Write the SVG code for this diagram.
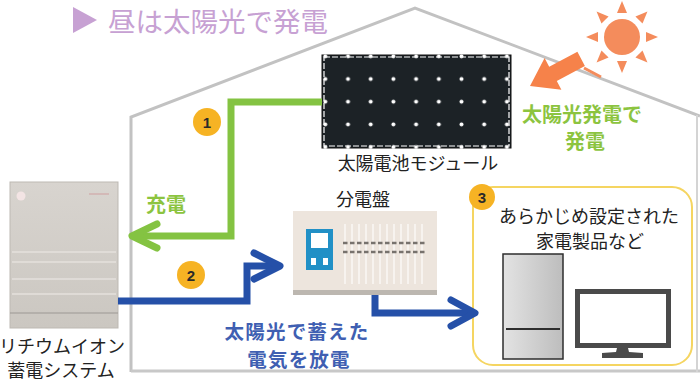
<svg xmlns="http://www.w3.org/2000/svg" width="700" height="382" viewBox="0 0 700 382">
  <defs>
    <style>
      text { font-family: "Noto Sans CJK JP", "Noto Sans", sans-serif; }
      .lbl { font-size: 18px; fill: #222; text-anchor: middle; }
      .green { font-size: 20px; font-weight: bold; fill: #8cc43f; text-anchor: middle; }
      .blue { font-size: 19.5px; letter-spacing: 1.2px; font-weight: bold; fill: #3f5fb2; text-anchor: middle; }
      .badge circle { fill: #f6b324; }
      .badge text { font-size: 15px; font-weight: bold; fill: #2a2a2a; text-anchor: middle; font-family: "Liberation Sans", sans-serif; }
      .wire { fill: none; stroke-width: 7; stroke-linejoin: miter; }
      .head { fill: none; stroke-width: 7; stroke-linecap: round; stroke-linejoin: round; }
      .dot { fill: #ffffff; }
    </style>
    <linearGradient id="batt" x1="0" y1="0" x2="0" y2="1">
      <stop offset="0" stop-color="#d8d4cf"/>
      <stop offset="1" stop-color="#cbc7c1"/>
    </linearGradient>
    <linearGradient id="fridge" x1="0" y1="0" x2="1" y2="0">
      <stop offset="0" stop-color="#e3e3e3"/>
      <stop offset="1" stop-color="#bdbdbd"/>
    </linearGradient>
    <!-- cell corner points of the module grid -->
    <pattern id="cells" x="336.65" y="67.65" width="22.7" height="22.7" patternUnits="userSpaceOnUse">
      <circle cx="11.35" cy="11.35" r="2" class="dot"/>
    </pattern>
  </defs>

  <rect width="700" height="382" fill="#ffffff"/>

  <!-- house outline -->
  <polyline points="131,372 131,117 415,8 700,116" fill="none" stroke="#c2c2c2" stroke-width="3"/>
  <line x1="131" y1="371" x2="700" y2="371" stroke="#c8c8c8" stroke-width="3"/>
  <line x1="697" y1="115" x2="697" y2="372" stroke="#d4d4d4" stroke-width="2"/>

  <!-- heading -->
  <g id="title">
    <polygon points="73,7 73,33 97,20" fill="#c7a1d3"/>
    <text x="108" y="32" font-size="27.5" fill="#c7a1d3">昼は太陽光で発電</text>
  </g>

  <!-- sun and light arrow -->
  <g id="sun" fill="#f48c5c">
    <circle cx="622" cy="37" r="18"/>
    <g transform="translate(622,37)">
      <polygon points="-5,-24 5,-24 0,-36"/>
      <polygon points="-5,-24 5,-24 0,-36" transform="rotate(45)"/>
      <polygon points="-5,-24 5,-24 0,-36" transform="rotate(90)"/>
      <polygon points="-5,-24 5,-24 0,-36" transform="rotate(135)"/>
      <polygon points="-5,-24 5,-24 0,-36" transform="rotate(180)"/>
      <polygon points="-5,-24 5,-24 0,-36" transform="rotate(225)"/>
      <polygon points="-5,-24 5,-24 0,-36" transform="rotate(270)"/>
      <polygon points="-5,-24 5,-24 0,-36" transform="rotate(315)"/>
    </g>
  </g>
  <g id="sunlight">
    <polygon points="530,86 544.6,57.9 549.2,66.7 577.4,51.7 584.9,65.9 556.8,80.9 561.4,89.7" fill="#f6824a"/>
    <line x1="584" y1="68" x2="601" y2="77" stroke="#f48c5c" stroke-width="3"/>
  </g>
  <text class="green" x="582" y="122">太陽光発電で</text>
  <text class="green" x="585" y="149">発電</text>

  <!-- solar module -->
  <g id="solar-module">
    <rect x="322" y="55" width="189" height="93" fill="#1c2226" stroke="#111" stroke-width="1"/>
    <rect x="324" y="57" width="185" height="89" fill="none" stroke="#ffffff" stroke-width="1.2" stroke-dasharray="6 2"/>
    <rect x="322" y="54" width="189" height="95" fill="url(#cells)"/>
    <text class="lbl" x="418" y="170">太陽電池モジュール</text>
  </g>

  <!-- lithium-ion storage battery -->
  <g id="battery">
    <rect x="10" y="182" width="108" height="146" fill="url(#batt)" stroke="#bdb9b3" stroke-width="1"/>
    <g stroke="#e4e1dd" stroke-width="1.5">
      <line x1="12" y1="252" x2="116" y2="252"/>
      <line x1="12" y1="262" x2="116" y2="262"/>
      <line x1="12" y1="279" x2="116" y2="279"/>
      <line x1="12" y1="294" x2="116" y2="294"/>
    </g>
    <line x1="10" y1="313" x2="118" y2="313" stroke="#9c9893" stroke-width="1.2"/>
    <circle cx="21" cy="196" r="4.5" fill="#f3e4e4"/>
    <rect x="89" y="193" width="20" height="2" fill="#d3b9b7"/>
    <text class="lbl" font-size="16.5" x="62" y="353">リチウムイオン</text>
    <text class="lbl" font-size="16.5" x="61" y="377">蓄電システム</text>
  </g>

  <!-- distribution board -->
  <g id="distribution-board">
    <text class="lbl" x="363" y="206">分電盤</text>
    <rect x="293" y="211" width="144" height="84" fill="#ede5dd"/>
    <rect x="293" y="290" width="144" height="5" fill="#bcb7b0"/>
    <g stroke="#f7f3ef" stroke-width="2">
      <line x1="345" y1="224" x2="345" y2="284"/>
      <line x1="352" y1="224" x2="352" y2="284"/>
      <line x1="359" y1="224" x2="359" y2="284"/>
      <line x1="366" y1="224" x2="366" y2="284"/>
      <line x1="373" y1="224" x2="373" y2="284"/>
      <line x1="380" y1="224" x2="380" y2="284"/>
      <line x1="387" y1="224" x2="387" y2="284"/>
      <line x1="394" y1="224" x2="394" y2="284"/>
      <line x1="401" y1="224" x2="401" y2="284"/>
      <line x1="408" y1="224" x2="408" y2="284"/>
      <line x1="415" y1="224" x2="415" y2="284"/>
      <line x1="422" y1="224" x2="422" y2="284"/>
    </g>
    <g stroke="#77726d" stroke-width="2.6" stroke-dasharray="4.5 2.5">
      <line x1="343" y1="243" x2="426" y2="243"/>
      <line x1="343" y1="252" x2="426" y2="252"/>
    </g>
    <rect x="306" y="229" width="27" height="41" fill="#2190c6"/>
    <rect x="311" y="233" width="17" height="15" fill="#ffffff"/>
    <rect x="311" y="258" width="5" height="7" fill="#ffffff"/>
    <rect x="323" y="258" width="5" height="7" fill="#ffffff"/>
  </g>

  <!-- appliances -->
  <g id="appliances">
    <rect x="473" y="187" width="219" height="178" rx="20" fill="#ffffff" stroke="#f5d561" stroke-width="2"/>
    <text class="lbl" x="589" y="223">あらかじめ設定された</text>
    <text class="lbl" x="590" y="248">家電製品など</text>
    <rect x="503" y="254" width="60" height="105" fill="url(#fridge)" stroke="#2e2e2e" stroke-width="1.5"/>
    <line x1="506" y1="329" x2="560" y2="329" stroke="#2e2e2e" stroke-width="2"/>
    <rect x="575" y="289" width="96" height="59" fill="#4a4a4a"/>
    <rect x="580" y="294" width="86" height="49" fill="#ffffff"/>
    <polygon points="617,348 628,348 629,352 643,353 643,358 602,358 602,353 616,352" fill="#4a4a4a"/>
  </g>

  <!-- connectors -->
  <g id="connectors">
    <polyline class="wire" stroke="#84c342" points="322,102 231,102 231,236 136,236"/>
    <polyline class="head" stroke="#84c342" points="157,224 132,236 157,248"/>
    <polyline class="wire" stroke="#2550a8" points="118,301 247,301 247,266 276,266"/>
    <polyline class="head" stroke="#2550a8" points="254,253 280,266 254,279"/>
    <polyline class="wire" stroke="#2550a8" points="375,295 375,313 470,313"/>
    <polyline class="head" stroke="#2550a8" points="451,300 475,313 451,326"/>
  </g>
  <text class="green" x="166" y="212">充電</text>
  <text class="blue" x="297" y="339">太陽光で蓄えた</text>
  <text class="blue" x="299" y="367">電気を放電</text>

  <!-- step badges -->
  <g id="badge-1" class="badge"><circle cx="207" cy="122" r="14"/><text x="207" y="128">1</text></g>
  <g id="badge-2" class="badge"><circle cx="191" cy="275" r="14"/><text x="191" y="281">2</text></g>
  <g id="badge-3" class="badge"><circle cx="482" cy="197" r="13"/><text x="482" y="203">3</text></g>
</svg>
